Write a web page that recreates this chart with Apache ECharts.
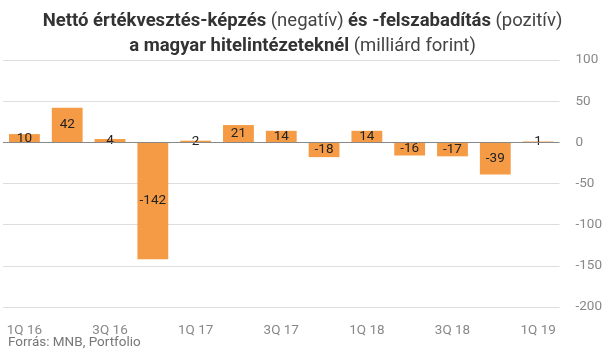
<!DOCTYPE html>
<html><head><meta charset="utf-8">
<script src="https://cdn.jsdelivr.net/npm/echarts@6/dist/echarts.min.js"></script>
<style>html,body{margin:0;padding:0;background:#fff}#c{width:605px;height:361px}</style>
</head><body><div id="c"></div>
<script>
const categories = ['1Q 16','2Q 16','3Q 16','4Q 16','1Q 17','2Q 17','3Q 17','4Q 17','1Q 18','2Q 18','3Q 18','4Q 18','1Q 19'];
const values = [10, 42, 4, -142, 2, 21, 14, -18, 14, -16, -17, -39, 1];
const yTicks = [-200, -150, -100, -50, 0, 50, 100];

const chart = echarts.init(document.getElementById('c'));
chart.setOption({
  animation: false,
  textStyle: {fontFamily: 'Roboto'},
  title: {
    left: 'center', top: 4,
    text: '{b|Nettó értékvesztés-képzés} {n|(negatív)} {b|és -felszabadítás} {n|(pozitív)}\n{b|a magyar hitelintézeteknél} {n|(milliárd forint)}',
    textStyle: {
      rich: {
        b: {fontFamily: 'Roboto', fontWeight: 'bold', fontSize: 18.5, color: '#333', lineHeight: 25},
        n: {fontFamily: 'Roboto', fontWeight: 'normal', fontSize: 18.5, color: '#444', lineHeight: 25}
      }
    }
  },
  graphic: [{
    type: 'text', left: 8, top: 336,
    style: {text: 'Forrás: MNB, Portfolio', fill: '#777', font: '13.5px Roboto'}
  }],
  grid: {left: 3, right: 43, top: 60, bottom: 54, containLabel: false},
  xAxis: {
    type: 'category', data: categories,
    axisLine: {show: false}, axisTick: {show: false},
    axisLabel: {interval: 1, color: '#888', fontSize: 13.5, margin: 17}
  },
  yAxis: {
    type: 'value', position: 'right', min: yTicks[0], max: yTicks[yTicks.length-1], interval: 50,
    axisLine: {show: false}, axisTick: {show: false},
    axisLabel: {color: '#888', fontSize: 13.5, margin: 16},
    splitLine: {lineStyle: {color: '#ddd', width: 1}}
  },
  series: [{
    type: 'bar', data: values, barCategoryGap: '28%',
    itemStyle: {color: '#F59B45'},
    label: {show: true, position: 'inside', color: '#222', fontSize: 13.5}
  }, {
    type: 'line', data: [], markLine: {
      silent: true, symbol: 'none', label: {show: false},
      lineStyle: {color: '#888', type: 'solid', width: 1},
      data: [{yAxis: 0}]
    }
  }]
});
</script></body></html>
